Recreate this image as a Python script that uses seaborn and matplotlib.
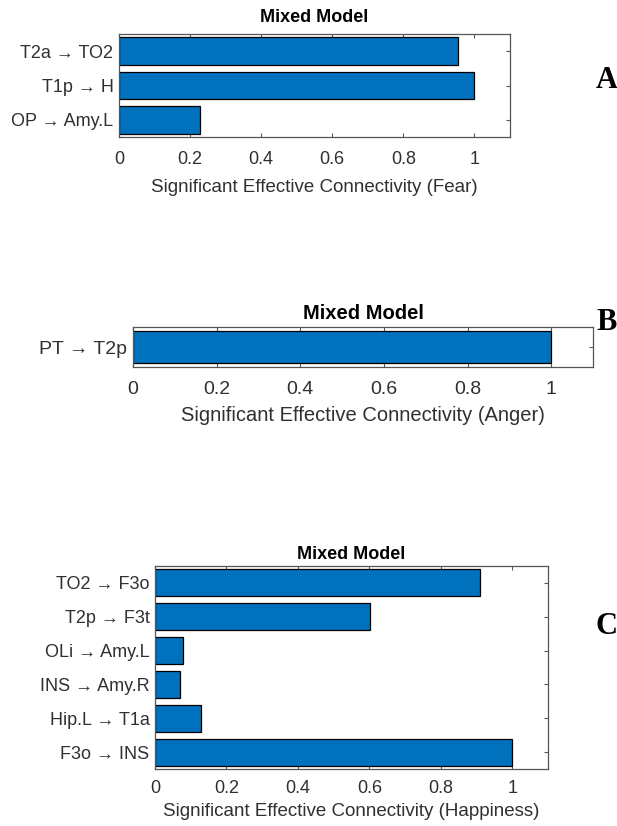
import matplotlib
matplotlib.use("Agg")
import matplotlib.pyplot as plt
import seaborn as sns
import pandas as pd

sns.set_theme(style="white")
plt.rcParams["font.family"] = ["Liberation Sans", "DejaVu Sans"]

# Significant effective connectivity per emotion (mixed model)
fear_links = ["T2a → TO2", "T1p → H", "OP → Amy.L"]
fear_values = [0.953, 1.0, 0.228]

anger_links = ["PT → T2p"]
anger_values = [1.0]

happy_links = ["TO2 → F3o", "T2p → F3t", "OLi → Amy.L", "INS → Amy.R", "Hip.L → T1a", "F3o → INS"]
happy_values = [0.911, 0.603, 0.077, 0.070, 0.129, 1.0]

x_ticks = [0, 0.2, 0.4, 0.6, 0.8, 1]
x_tick_labels = ["0", "0.2", "0.4", "0.6", "0.8", "1"]

BAR = "#0072BD"
INK = "#303030"

fig = plt.figure(figsize=(6.17, 8.26), dpi=100)

# rect, links, values, emotion, panel letter, letter y, tick size, label size,
# title size, title pad, x tick pad, labelpad
panels = [
    ([0.1929, 0.8341, 0.6337, 0.1247], fear_links, fear_values, "Fear", "A", 0.903, 13, 13.5, 13, 9, 10, 8),
    ([0.2156, 0.5557, 0.7455, 0.0484], anger_links, anger_values, "Anger", "B", 0.609, 14, 14.5, 14.5, 6, 10, 6),
    ([0.2512, 0.0690, 0.6370, 0.2458], happy_links, happy_values, "Happiness", "C", 0.241, 13, 13.5, 13, 5, 8, 4),
]

for rect, links, values, emotion, letter, ly, tsz, lsz, ttl, tpad, xpad, lpad in panels:
    ax = fig.add_axes(rect)
    df = pd.DataFrame({"link": links, "value": values})
    sns.barplot(data=df, x="value", y="link", orient="h", color=BAR,
                saturation=1, width=0.8, edgecolor="black", linewidth=0.9, ax=ax)
    ax.set_xlim(0, 1.1)
    ax.set_ylim(len(links) - 0.5, -0.5)
    ax.set_xticks(x_ticks)
    ax.set_xticklabels(x_tick_labels)
    ax.tick_params(axis="both", direction="in", length=3, width=0.8,
                   colors="#555555", labelcolor=INK, labelsize=tsz,
                   top=True, right=True, bottom=True, left=True)
    ax.tick_params(axis="x", pad=xpad)
    ax.tick_params(axis="y", pad=4)
    for s in ax.spines.values():
        s.set_color("#555555")
        s.set_linewidth(0.9)
        s.set_visible(True)
    ax.set_ylabel("")
    ax.set_xlabel(f"Significant Effective Connectivity ({emotion})",
                  fontsize=lsz, color=INK, labelpad=lpad)
    ax.set_title("Mixed Model", fontsize=ttl, fontweight="bold", color="black", pad=tpad)
    fig.text(0.983, ly, letter, fontsize=22, fontweight="bold",
             family="Liberation Serif", ha="center", va="center", color="black")

fig.savefig("out.png", dpi=100, facecolor="white")
